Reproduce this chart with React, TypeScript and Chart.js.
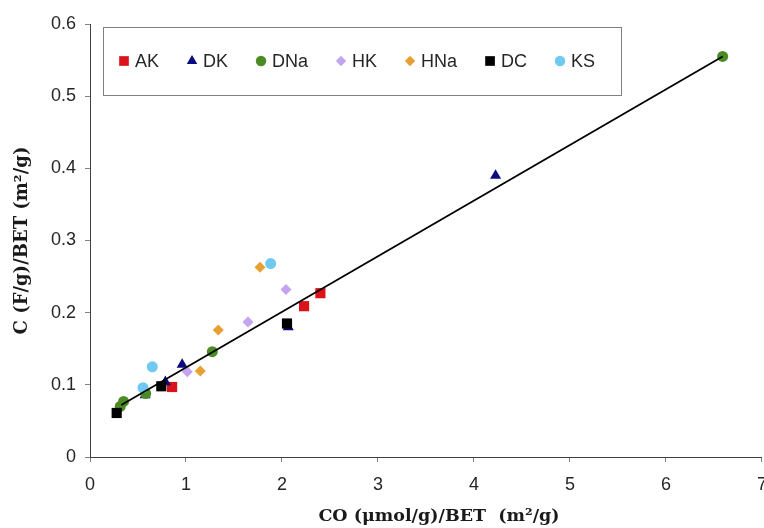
import React, { useEffect, useRef } from 'react';
import { Chart, registerables } from 'chart.js';
import { drawPoint } from 'chart.js/helpers';

Chart.register(...registerables);

// ---- data ----
const seriesNames = ['AK', 'DK', 'DNa', 'HK', 'HNa', 'DC', 'KS'];
const seriesColors = ['#d9121b', '#0b0b80', '#4c8a25', '#c2a4f0', '#e8a033', '#000000', '#70c9f0'];
const seriesStyles = ['rect', 'triangle', 'circle', 'rectRot', 'rectRot', 'rect', 'circle'];
const seriesRadii = [7.2, 6.4, 5.5, 5.5, 5.5, 7.2, 5.5];

const akX = [0.855, 2.23, 2.40];
const akY = [0.097, 0.209, 0.227];
const dkX = [0.575, 0.785, 0.96, 2.065, 4.225];
const dkY = [0.086, 0.104, 0.128, 0.180, 0.390];
const dnaX = [0.315, 0.35, 0.58, 1.274, 6.59];
const dnaY = [0.070, 0.077, 0.088, 0.146, 0.555];
const hkX = [1.014, 1.646, 2.042];
const hkY = [0.118, 0.187, 0.232];
const hnaX = [1.149, 1.336, 1.771];
const hnaY = [0.119, 0.176, 0.263];
const dcX = [0.278, 0.743, 2.052];
const dcY = [0.061, 0.098, 0.185];
const ksX = [0.552, 0.649, 1.882];
const ksY = [0.096, 0.125, 0.268];

const seriesX = [akX, dkX, dnaX, hkX, hnaX, dcX, ksX];
const seriesY = [akY, dkY, dnaY, hkY, hnaY, dcY, ksY];

const trendX = [0.326, 6.59];
const trendY = [0.072, 0.555];

const xMin = 0, xMax = 7, xStep = 1;
const yMin = 0, yMax = 0.6, yStep = 0.1;

const xTitle = 'CO (μmol/g)/BET  (m²/g)';
const yTitle = 'C (F/g)/BET (m²/g)';

const zip = (xs: number[], ys: number[]) => xs.map((x, i) => ({ x, y: ys[i] }));

const legendBox = {
  id: 'legendBox',
  afterDraw(chart: any) {
    const ctx = chart.ctx;
    const { left, top, right } = chart.chartArea;
    const bx = Math.round(left + 13);
    const by = Math.round(top + 3);
    const bw = 518;
    const bh = 68;
    ctx.save();
    ctx.strokeStyle = '#808080';
    ctx.lineWidth = 1;
    ctx.strokeRect(bx + 0.5, by + 0.5, bw, bh);
    ctx.font = '18px "Liberation Sans", Arial, sans-serif';
    ctx.textBaseline = 'middle';
    ctx.textAlign = 'left';
    let x = bx + 21;
    const y = by + 34;
    chart.data.datasets.forEach((ds: any) => {
      if (ds.isTrend) return;
      ctx.fillStyle = ds.backgroundColor;
      drawPoint(ctx, { pointStyle: ds.pointStyle, radius: ds.pointRadius * 0.95, borderWidth: 0, rotation: 0 } as any, x, y);
      ctx.fillStyle = '#262626';
      ctx.fillText(ds.label, x + 11, y + 1);
      x += 11 + ctx.measureText(ds.label).width + 33;
    });
    // x-axis title, slightly right of the plot centre as in the original
    ctx.font = 'bold 17.5px "DejaVu Serif", serif';
    ctx.fillStyle = '#1a1a1a';
    ctx.textAlign = 'center';
    ctx.textBaseline = 'middle';
    ctx.fillText(xTitle, (left + right) / 2 + 13, 516);
    ctx.restore();
  },
};

export default function App() {
  const ref = useRef<HTMLCanvasElement>(null);

  useEffect(() => {
    if (!ref.current) return;
    const datasets: any[] = [
      {
        type: 'line',
        label: 'trend',
        isTrend: true,
        data: zip(trendX, trendY),
        borderColor: '#000000',
        borderWidth: 1.8,
        pointRadius: 0,
        fill: false,
        order: 0,
      },
      ...seriesNames.map((name, i) => ({
        type: 'scatter',
        label: name,
        data: zip(seriesX[i], seriesY[i]),
        backgroundColor: seriesColors[i],
        borderColor: seriesColors[i],
        borderWidth: 0,
        pointStyle: seriesStyles[i],
        pointRadius: seriesRadii[i],
        order: seriesNames.length - i,
      })),
    ];

    const tickFont = { family: '"Liberation Sans", Arial, sans-serif', size: 18 };
    const yTitleFont = { family: '"DejaVu Serif", serif', size: 18, weight: 'bold' as const };

    const chart = new Chart(ref.current, {
      type: 'scatter',
      data: { datasets },
      options: {
        responsive: false,
        animation: false,
        layout: { padding: { top: 24, right: 8, bottom: 0, left: 0 } },
        plugins: { legend: { display: false }, tooltip: { enabled: false } },
        scales: {
          x: {
            type: 'linear',
            min: xMin,
            max: xMax,
            ticks: { stepSize: xStep, font: tickFont, color: '#262626', padding: 12, maxRotation: 0 },
            grid: { drawOnChartArea: false, drawTicks: true, tickLength: 5, color: '#808080' },
            border: { display: true, color: '#404040', width: 1 },
            title: { display: false },
            afterFit: (s: any) => { s.height = 71; },
          },
          y: {
            type: 'linear',
            min: yMin,
            max: yMax,
            ticks: {
              stepSize: yStep,
              font: tickFont,
              color: '#262626',
              padding: 9,
              callback: (v: any) => (Number(v) === 0 ? '0' : Number(v).toFixed(1)),
            },
            grid: { drawOnChartArea: false, drawTicks: true, tickLength: 5, color: '#808080' },
            border: { display: true, color: '#404040', width: 1 },
            title: { display: true, text: yTitle, font: yTitleFont, color: '#1a1a1a', padding: { top: 12, bottom: 0 } },
            afterFit: (s: any) => { s.width = 90; },
          },
        },
      } as any,
      plugins: [legendBox],
    });
    return () => chart.destroy();
  }, []);

  return (
    <div style={{ position: 'fixed', left: 0, top: 0, width: 764, height: 528, overflow: 'hidden', background: '#ffffff' }}>
      <canvas ref={ref} width={779} height={528} style={{ display: 'block', width: 779, height: 528 }} />
    </div>
  );
}
